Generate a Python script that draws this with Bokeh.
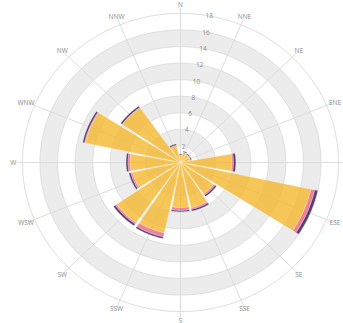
import numpy as np
from bokeh.plotting import figure
from bokeh.models import Range1d
from bokeh.core.properties import value
from bokeh.embed import file_html
from bokeh.resources import INLINE

# ---------------- data ----------------
directions = ["N", "NNE", "NE", "ENE", "E", "ESE", "SE", "SSE",
              "S", "SSW", "SW", "WSW", "W", "WNW", "NW", "NNW"]
# stacked segments (inner -> outer)
seg_yellow = [0.85, 1.25, 1.15, 1.15, 5.85, 15.2, 4.6, 5.6,
              5.45, 8.7, 8.85, 5.6, 5.75, 11.1, 8.05, 2.1]
seg_pink = [0.05, 0.05, 0.05, 0.05, 0.2, 0.45, 0.2, 0.2,
            0.35, 0.5, 0.2, 0.2, 0.25, 0.1, 0.05, 0.05]
seg_purple = [0.1, 0.1, 0.1, 0.1, 0.25, 0.35, 0.2, 0.2,
              0.15, 0.2, 0.25, 0.2, 0.2, 0.2, 0.2, 0.15]
radial_ticks = [2, 4, 6, 8, 10, 12, 14, 16, 18]

# ---------------- layout ----------------
W, H = 343, 323
CX, CY = 180, 162          # centre in figure pixels
PX_X, PX_Y = 8.78, 8.28    # pixels per unit
R_MAX = 18
LABEL_R = 19.05
BAR_W = 20.5               # degrees

p = figure(width=W, height=H, output_backend="svg", toolbar_location=None,
           x_range=Range1d(-CX / PX_X, (W - CX) / PX_X),
           y_range=Range1d(-(H - CY) / PX_Y, CY / PX_Y),
           x_axis_location=None, y_axis_location=None, min_border=0,
           background_fill_color="white", border_fill_color="white")
p.grid.visible = False
p.outline_line_color = None


def pol(r, deg):
    a = np.radians(deg)
    return r * np.sin(a), r * np.cos(a)


full = np.linspace(0, 360, 241)

# alternating bands (filled discs from the outside in)
disc_r = list(range(R_MAX, 0, -2))
disc_xs, disc_ys, disc_c = [], [], []
for r in disc_r:
    x, y = pol(r, full)
    disc_xs.append(list(x))
    disc_ys.append(list(y))
    disc_c.append("#ececec" if (r // 2) % 2 == 0 else "#ffffff")
p.patches(disc_xs, disc_ys, fill_color=disc_c, line_color=None)

# circles
cxs, cys = [], []
for r in radial_ticks:
    x, y = pol(r, full)
    cxs.append(list(x))
    cys.append(list(y))
p.multi_line(cxs, cys, line_color="#dedede", line_width=1)

# spokes
angles = [i * 360 / len(directions) for i in range(len(directions))]
sx, sy = [], []
for a in angles:
    x, y = pol(np.array([0, 18.7]), a)
    sx.append(list(x))
    sy.append(list(y))
p.multi_line(sx, sy, line_color="#dddddd", line_width=1)

# bars
colors = ["#f5b82e", "#ee6d8a", "#3d1f5a"]
alphas = [0.8, 0.85, 0.85]
series = [seg_yellow, seg_pink, seg_purple]
base = np.zeros(len(directions))
for seg, col, al in zip(series, colors, alphas):
    xs, ys = [], []
    for i, a in enumerate(angles):
        r0, r1 = base[i], base[i] + seg[i]
        arc = np.linspace(a - BAR_W / 2, a + BAR_W / 2, 30)
        xo, yo = pol(r1, arc)
        xi, yi = pol(r0, arc[::-1])
        xs.append(list(np.concatenate([xo, xi])))
        ys.append(list(np.concatenate([yo, yi])))
    p.patches(xs, ys, fill_color=col, fill_alpha=al,
              line_color="white", line_width=0.4, line_alpha=0.6)
    base = base + np.array(seg)

# radial tick labels
tx, ty = pol(np.array(radial_ticks, dtype=float), 10.5)
p.text(x=list(tx), y=list(ty), text=[str(t) for t in radial_ticks],
       text_align="center", text_baseline="middle",
       text_font=value("Open Sans"), text_font_size="6.5px",
       text_color="#8a8a8a")

# direction labels
lx, ly = pol(LABEL_R, np.array(angles))
p.text(x=list(lx), y=list(ly), text=directions,
       text_align="center", text_baseline="middle",
       text_font=value("Open Sans"), text_font_size="6.5px",
       text_color="#8a8a8a")

open("out.html", "w").write(file_html(p, INLINE))
